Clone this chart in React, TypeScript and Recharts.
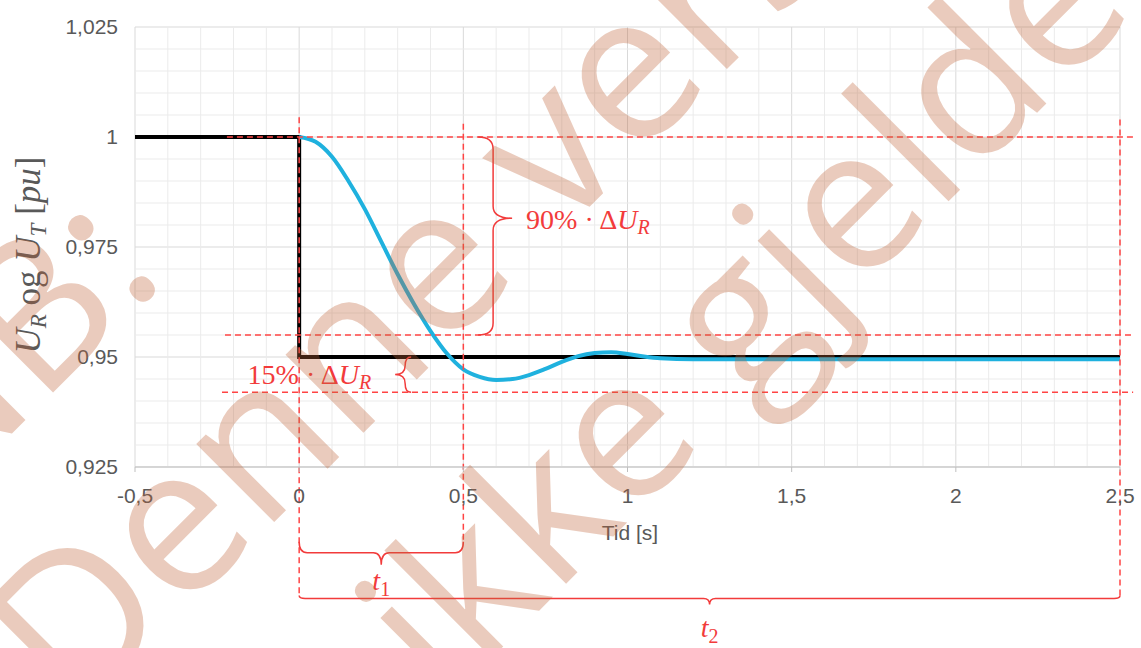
import React from "react";
import { LineChart, Line, XAxis, YAxis, CartesianGrid, ReferenceLine } from "recharts";

// axis ticks
const xTicks = [-0.5, 0, 0.5, 1, 1.5, 2, 2.5];
const yTicks = [0.925, 0.95, 0.975, 1, 1.025];
const xMinor = [-0.4, -0.3, -0.2, -0.1, 0.1, 0.2, 0.3, 0.4, 0.6, 0.7, 0.8, 0.9, 1.1, 1.2, 1.3, 1.4, 1.6, 1.7, 1.8, 1.9, 2.1, 2.2, 2.3, 2.4];
const yMinor = [0.93, 0.935, 0.94, 0.945, 0.955, 0.96, 0.965, 0.97, 0.98, 0.985, 0.99, 0.995, 1.005, 1.01, 1.015, 1.02];

// U_T: reference step
const stepT = [-0.5, 0, 0, 2.5];
const stepU = [1, 1, 0.95, 0.95];

// U_R: measured response
const respT = [0, 0.05, 0.1, 0.15, 0.2, 0.25, 0.3, 0.35, 0.4, 0.45, 0.5, 0.55, 0.6, 0.65, 0.7, 0.75, 0.8, 0.85, 0.9, 0.95, 1.0, 1.05, 1.1, 1.2, 1.4, 2.5];
const respU = [1, 0.9989, 0.9955, 0.99, 0.9836, 0.9762, 0.9688, 0.962, 0.9559, 0.9508, 0.9472, 0.9455, 0.9448, 0.945, 0.9459, 0.9473, 0.9489, 0.9502, 0.9509, 0.9511, 0.9507, 0.9501, 0.9497, 0.9495, 0.9495, 0.9495];

// annotation levels
const hDashed = [
  { y: 1, from: -0.22, to: 2.54 },
  { y: 0.955, from: -0.226, to: 2.54 },
  { y: 0.942, from: -0.235, to: 2.54 },
];
const vDashed = [
  { x: 0, from: 1.0045, to: 0.8958 },
  { x: 0.5, from: 1.003, to: 0.908 },
  { x: 2.5, from: 1.004, to: 0.8958 },
];

const stepData = stepT.map((t, i) => ({ t, u: stepU[i] }));
const respData = respT.map((t, i) => ({ t, u: respU[i] }));

const RED = "#f23b3b";
const DASH = "#ff4444";
const GRAY = "#595959";
const MATH = "'Liberation Serif', serif";

const fmt = (v: number) => String(v).replace(".", ",");

function vBrace(dir: number, body: number, tip: number, frac: number, label: React.ReactNode, lx: number, ly: number) {
  return (p: any) => {
    const x = p.x1;
    const y1 = Math.min(p.y1, p.y2);
    const y2 = Math.max(p.y1, p.y2);
    const bx = x + dir * body;
    const tx = x + dir * tip;
    const ym = y1 + (y2 - y1) * frac;
    const r = Math.min(12, (ym - y1) / 2, (y2 - ym) / 2);
    const d = `M${x},${y1} Q${bx},${y1} ${bx},${y1 + r} L${bx},${ym - r} Q${bx},${ym} ${tx},${ym} Q${bx},${ym} ${bx},${ym + r} L${bx},${y2 - r} Q${bx},${y2} ${x},${y2}`;
    return (
      <g>
        <path d={d} fill="none" stroke={RED} strokeWidth={1.5} />
        <text x={tx + dir * lx} y={ym + ly} textAnchor={dir > 0 ? "start" : "end"} fontFamily={MATH} fontSize={28} fill={RED}>
          {label}
        </text>
      </g>
    );
  };
}

function hBrace(body: number, tip: number, r0: number, label: React.ReactNode, ly: number) {
  return (p: any) => {
    const y = p.y1;
    const x1 = Math.min(p.x1, p.x2);
    const x2 = Math.max(p.x1, p.x2);
    const by = y + body;
    const ty = y + tip;
    const xm = (x1 + x2) / 2;
    const r = r0;
    const d = `M${x1},${y} Q${x1},${by} ${x1 + r},${by} L${xm - r},${by} Q${xm},${by} ${xm},${ty} Q${xm},${by} ${xm + r},${by} L${x2 - r},${by} Q${x2},${by} ${x2},${y}`;
    return (
      <g>
        <path d={d} fill="none" stroke={RED} strokeWidth={1.5} />
        <text x={xm} y={ty + ly} textAnchor="middle" fontFamily={MATH} fontSize={28} fill={RED}>
          {label}
        </text>
      </g>
    );
  };
}

const deltaLabel = (pct: string) => (
  <>
    <tspan>{pct}% · Δ</tspan>
    <tspan fontStyle="italic">U</tspan>
    <tspan fontStyle="italic" fontSize={20} dy={5}>R</tspan>
  </>
);

const tLabel = (n: string) => (
  <>
    <tspan fontStyle="italic">t</tspan>
    <tspan fontSize={20} dy={6}>{n}</tspan>
  </>
);

export default function App() {
  return (
    <div style={{ position: "absolute", left: 0, top: 0, width: 1141, height: 648, background: "#fff" }}>
      <LineChart width={1141} height={648} margin={{ top: 27, right: 21, bottom: 141, left: 0 }}>
        <CartesianGrid stroke="#d9d9d9" />
        {xMinor.map((v) => (
          <ReferenceLine key={`xm${v}`} x={v} stroke="#ebebeb" strokeWidth={1} />
        ))}
        {yMinor.map((v) => (
          <ReferenceLine key={`ym${v}`} y={v} stroke="#ebebeb" strokeWidth={1} />
        ))}
        <XAxis
          type="number"
          dataKey="t"
          domain={[-0.5, 2.5]}
          ticks={xTicks}
          tickFormatter={fmt}
          height={40}
          stroke="#bfbfbf"
          tickSize={5}
          tickMargin={16}
          tick={{ fill: GRAY, fontSize: 21, fontFamily: "'Liberation Sans', Arial, sans-serif" }}
          allowDataOverflow
        />
        <YAxis
          type="number"
          domain={[0.925, 1.025]}
          ticks={yTicks}
          tickFormatter={fmt}
          width={135}
          axisLine={false}
          tickLine={false}
          tickSize={5}
          tickMargin={12}
          tick={{ fill: GRAY, fontSize: 21, fontFamily: "'Liberation Sans', Arial, sans-serif" }}
          allowDataOverflow
        />
        <Line data={stepData} dataKey="u" type="linear" stroke="#000" strokeWidth={4} dot={false} isAnimationActive={false} />
        <Line data={respData} dataKey="u" type="monotone" stroke="#1fb1de" strokeWidth={4} dot={false} isAnimationActive={false} />
        {hDashed.map((h) => (
          <ReferenceLine
            key={`hd${h.y}`}
            segment={[{ x: h.from, y: h.y }, { x: h.to, y: h.y }]}
            stroke={DASH}
            strokeWidth={1.5}
            strokeDasharray="6 4"
            ifOverflow="visible"
          />
        ))}
        {vDashed.map((v) => (
          <ReferenceLine
            key={`vd${v.x}`}
            segment={[{ x: v.x, y: v.from }, { x: v.x, y: v.to }]}
            stroke={DASH}
            strokeWidth={1.5}
            strokeDasharray="6 4"
            ifOverflow="visible"
          />
        ))}
        <ReferenceLine
          segment={[{ x: 0.545, y: 1 }, { x: 0.545, y: 0.955 }]}
          ifOverflow="visible"
          shape={vBrace(1, 15, 34, 0.41, deltaLabel("90"), 14, 11)}
        />
        <ReferenceLine
          segment={[{ x: 0.341, y: 0.95 }, { x: 0.341, y: 0.942 }]}
          ifOverflow="visible"
          shape={vBrace(-1, 6, 16, 0.5, deltaLabel("15"), 24, 9)}
        />
        <ReferenceLine
          segment={[{ x: 0, y: 0.908 }, { x: 0.5, y: 0.908 }]}
          ifOverflow="visible"
          shape={hBrace(11, 23, 8, tLabel("1"), 25)}
        />
        <ReferenceLine
          segment={[{ x: 0, y: 0.8958 }, { x: 2.5, y: 0.8958 }]}
          ifOverflow="visible"
          shape={hBrace(3, 9, 6, tLabel("2"), 33)}
        />
      </LineChart>
      <svg width={1141} height={648} style={{ position: "absolute", left: 0, top: 0, pointerEvents: "none" }}>
        <text x={630} y={540} textAnchor="middle" fontFamily="'Liberation Sans', Arial, sans-serif" fontSize={21} fill={GRAY}>
          Tid [s]
        </text>
        <text transform="translate(40,255) rotate(-90)" textAnchor="middle" fontFamily={MATH} fontSize={35} fill={GRAY}>
          <tspan fontStyle="italic">U</tspan>
          <tspan fontStyle="italic" fontSize={23} dy={6}>R</tspan>
          <tspan dy={-6}> og </tspan>
          <tspan fontStyle="italic">U</tspan>
          <tspan fontStyle="italic" fontSize={23} dy={6}>T</tspan>
          <tspan dy={-6}> [</tspan>
          <tspan fontStyle="italic">pu</tspan>
          <tspan>]</tspan>
        </text>
        <g transform="rotate(-45)" fontFamily="'Open Sans', sans-serif" fontSize={200} fill="#c0653a" opacity={0.33}>
          <text x={-410} y={315}>NB:</text>
          <text x={-458} y={563} fontSize={206}>Denne versjonen</text>
          <text x={-185} y={813}>ikke gjeldende</text>
        </g>
      </svg>
    </div>
  );
}
